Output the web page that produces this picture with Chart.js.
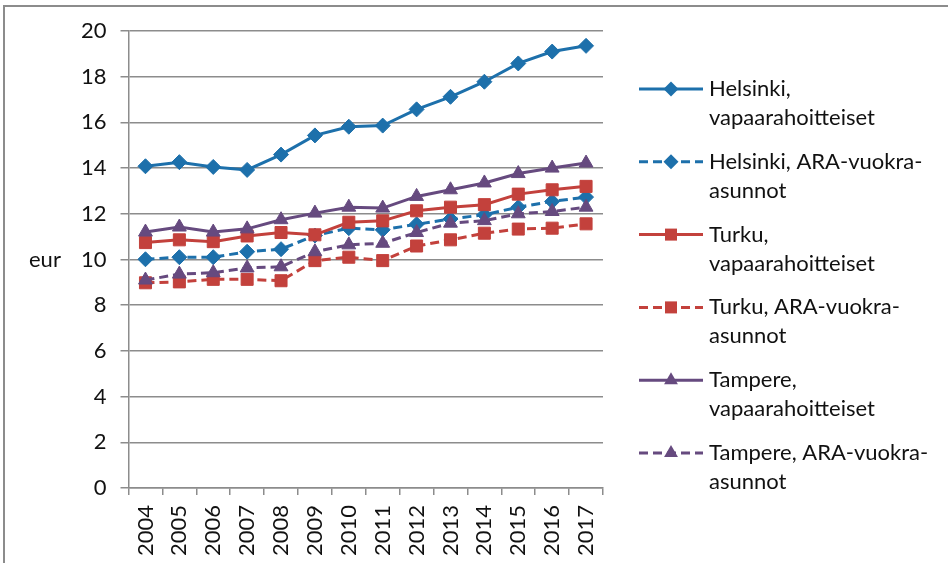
<!DOCTYPE html>
<html>
<head>
<meta charset="utf-8">
<script src="https://cdn.jsdelivr.net/npm/chart.js@4.4.1/dist/chart.umd.min.js"></script>
<style>
  html, body { margin: 0; padding: 0; background: #fff; }
  #wrap { width: 948px; height: 563px; position: relative; }
</style>
</head>
<body>
<div id="wrap"><canvas id="vuokraChart"></canvas></div>
<script>
// vuosittaiset keskivuokrat (eur / m2)
const years = ['2004', '2005', '2006', '2007', '2008', '2009', '2010', '2011', '2012', '2013', '2014', '2015', '2016', '2017'];
const helsinkiVapaa = [14.08, 14.26, 14.05, 13.92, 14.59, 15.43, 15.81, 15.86, 16.57, 17.12, 17.78, 18.58, 19.10, 19.35];
const helsinkiAra = [10.01, 10.10, 10.10, 10.34, 10.45, 11.05, 11.37, 11.30, 11.54, 11.77, 11.96, 12.29, 12.54, 12.73];
const turkuVapaa = [10.74, 10.86, 10.78, 11.03, 11.18, 11.08, 11.63, 11.69, 12.13, 12.29, 12.40, 12.86, 13.05, 13.20];
const turkuAra = [8.98, 9.02, 9.13, 9.13, 9.07, 9.95, 10.10, 9.95, 10.59, 10.86, 11.15, 11.33, 11.37, 11.56];
const tampereVapaa = [11.20, 11.42, 11.20, 11.34, 11.74, 12.03, 12.29, 12.25, 12.76, 13.05, 13.35, 13.76, 14.00, 14.22];
const tampereAra = [9.10, 9.36, 9.42, 9.63, 9.68, 10.34, 10.64, 10.71, 11.18, 11.59, 11.70, 12.00, 12.10, 12.29];

const seriesLabels = [
  ['Helsinki,', 'vapaarahoitteiset'],
  ['Helsinki, ARA-vuokra-', 'asunnot'],
  ['Turku,', 'vapaarahoitteiset'],
  ['Turku, ARA-vuokra-', 'asunnot'],
  ['Tampere,', 'vapaarahoitteiset'],
  ['Tampere, ARA-vuokra-', 'asunnot']
];
const yAxisLabel = 'eur';

const FONT = 'Lato, "Open Sans", sans-serif';
const FONT_SIZE = 22;
const GRID = '#8c8c8c';
const BLUE = '#1d70ab';
const RED = '#c3413c';
const PURPLE = '#664a7f';
const DASH = [9, 5];

function makeSet(idx, data, color, style, radius, dashed) {
  return {
    label: seriesLabels[idx].join(' '),
    data: data,
    borderColor: color,
    backgroundColor: color,
    borderWidth: 3,
    borderDash: dashed ? DASH : [],
    pointStyle: style,
    pointRadius: radius,
    pointHoverRadius: radius,
    pointBorderWidth: 1,
    pointBorderColor: color,
    pointBackgroundColor: color,
    tension: 0,
    fill: false,
    order: 5 - idx   // myöhemmät sarjat piirretään päälle
  };
}

const datasets = [
  makeSet(0, helsinkiVapaa, BLUE, 'rectRot', 7.5, false),
  makeSet(1, helsinkiAra, BLUE, 'rectRot', 7.5, true),
  makeSet(2, turkuVapaa, RED, 'rect', 8.5, false),
  makeSet(3, turkuAra, RED, 'rect', 8.5, true),
  makeSet(4, tampereVapaa, PURPLE, 'triangle', 8, false),
  makeSet(5, tampereAra, PURPLE, 'triangle', 8, true)
];

function drawMarker(ctx, style, r, x, y) {
  ctx.beginPath();
  if (style === 'rectRot') {
    ctx.moveTo(x, y - r); ctx.lineTo(x + r, y); ctx.lineTo(x, y + r); ctx.lineTo(x - r, y);
  } else if (style === 'rect') {
    const s = r * Math.SQRT1_2;
    ctx.rect(x - s, y - s, 2 * s, 2 * s);
  } else {
    const h = r * 1.5;
    ctx.moveTo(x, y - r); ctx.lineTo(x + h / Math.sqrt(3), y + r / 2); ctx.lineTo(x - h / Math.sqrt(3), y + r / 2);
  }
  ctx.closePath();
  ctx.fill();
}

// kehys, y-akselin otsikko ja oma selite
const extras = {
  id: 'extras',
  beforeDraw(chart) {
    const ctx = chart.ctx;
    ctx.save();
    ctx.strokeStyle = GRID;
    ctx.lineWidth = 2;
    ctx.beginPath();
    ctx.moveTo(4, chart.height + 2);
    ctx.lineTo(4, 6);
    ctx.lineTo(chart.width + 2, 6);
    ctx.stroke();
    ctx.restore();
  },
  afterDraw(chart) {
    const ctx = chart.ctx;
    ctx.save();
    ctx.font = FONT_SIZE + 'px ' + FONT;
    ctx.fillStyle = '#111';
    ctx.textBaseline = 'middle';
    ctx.textAlign = 'left';
    ctx.fillText(yAxisLabel, 29, chart.scales.y.getPixelForValue(10));

    chart.data.datasets.forEach((ds, i) => {
      const y0 = 89 + i * 72.8;
      ctx.strokeStyle = ds.borderColor;
      ctx.lineWidth = 3;
      ctx.setLineDash(ds.borderDash);
      ctx.beginPath();
      ctx.moveTo(639, y0);
      ctx.lineTo(703, y0);
      ctx.stroke();
      ctx.setLineDash([]);
      ctx.fillStyle = ds.borderColor;
      drawMarker(ctx, ds.pointStyle, ds.pointRadius, 671, y0);
      ctx.fillStyle = '#111';
      seriesLabels[i].forEach((t, k) => ctx.fillText(t, 709, y0 + k * 29));
    });
    ctx.restore();
  }
};

new Chart(document.getElementById('vuokraChart').getContext('2d'), {
  type: 'line',
  data: { labels: years, datasets: datasets },
  options: {
    responsive: true,
    maintainAspectRatio: false,
    animation: false,
    events: [],
    layout: { padding: { left: 67, right: 345, top: 31, bottom: -3 } },
    scales: {
      x: {
        offset: true,
        border: { display: true, color: GRID, width: 1.5 },
        grid: { display: true, drawOnChartArea: false, drawTicks: true, tickLength: 7, color: GRID, lineWidth: 1.5, offset: true },
        ticks: { color: '#111', font: { family: FONT, size: FONT_SIZE }, minRotation: 90, maxRotation: 90, padding: 10, autoSkip: false }
      },
      y: {
        min: 0,
        max: 20,
        border: { display: true, color: GRID, width: 1.5 },
        grid: { color: GRID, lineWidth: 1.5, drawTicks: true, tickLength: 8 },
        ticks: { stepSize: 2, color: '#111', font: { family: FONT, size: FONT_SIZE }, padding: 14 }
      }
    },
    plugins: {
      legend: { display: false },
      tooltip: { enabled: false }
    }
  },
  plugins: [extras]
});
</script>
</body>
</html>
